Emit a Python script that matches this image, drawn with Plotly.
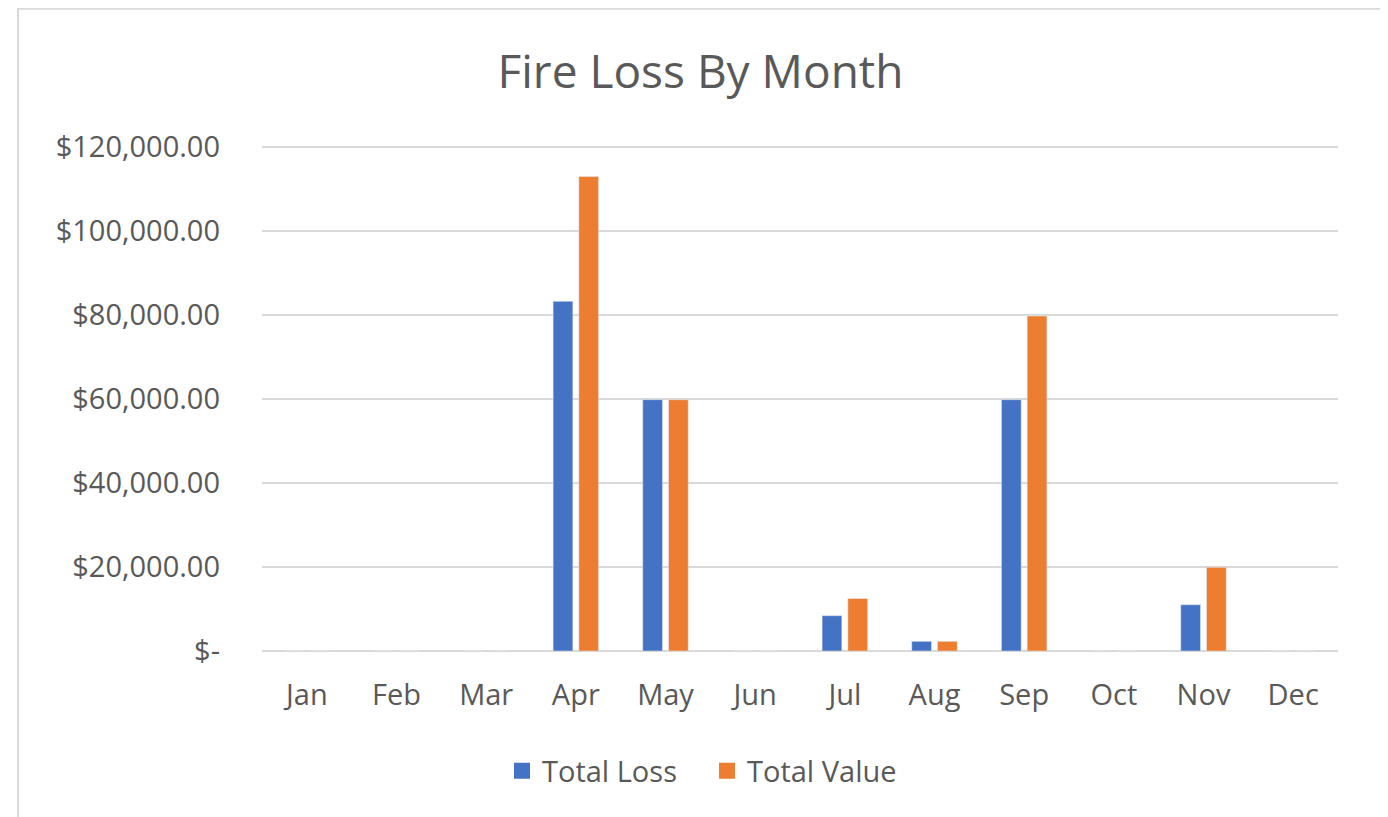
import plotly.graph_objects as go

months = ["Jan", "Feb", "Mar", "Apr", "May", "Jun", "Jul", "Aug", "Sep", "Oct", "Nov", "Dec"]
total_loss = [0, 0, 0, 83200, 59800, 0, 8400, 2300, 59800, 0, 11000, 0]
total_value = [0, 0, 0, 112900, 59800, 0, 12500, 2300, 79700, 0, 19900, 0]
series_names = ["Total Loss", "Total Value"]
series_colors = ["#4472C4", "#ED7D31"]
y_tick_vals = [0, 20000, 40000, 60000, 80000, 100000, 120000]
y_tick_text = ["$-", "$20,000.00", "$40,000.00", "$60,000.00", "$80,000.00", "$100,000.00", "$120,000.00"]

FONT = "Open Sans"
TXT = "#595959"

# page body has an 8px margin; layout coordinates compensate for it
OFF = 8
PLOT_L, PLOT_R, PLOT_T, PLOT_B = 262, 1338, 147, 651.5
YMAX = 120400
ph_full = (PLOT_B - PLOT_T) / 120000 * YMAX
top_px = PLOT_B - ph_full

fig = go.Figure()
for name, vals, col in zip(series_names, [total_loss, total_value], series_colors):
    fig.add_trace(go.Bar(name=name, x=months, y=vals, marker_color=col,
                         showlegend=False, legendgroup=name))
# legend entries with larger square swatches
for name, col in zip(series_names, series_colors):
    fig.add_trace(go.Scatter(name=name, x=[None], y=[None], mode="markers",
                             marker=dict(symbol="square", size=16, color=col),
                             showlegend=True, legendgroup=name, hoverinfo="skip"))

fig.update_layout(
    width=1388, height=817,
    paper_bgcolor="white", plot_bgcolor="white",
    margin=dict(l=PLOT_L - OFF, r=1388 - PLOT_R + OFF, t=top_px - OFF, b=817 - PLOT_B + OFF, pad=0),
    barmode="group", bargap=0.426, bargroupgap=0.233,
    font=dict(family=FONT, color=TXT, size=29),
    title=dict(text="Fire Loss By Month", x=(700.5 - OFF) / 1388, xanchor="center", xref="container",
               y=1 - (72 - OFF) / 817, yanchor="middle", yref="container",
               font=dict(family=FONT, size=46, color=TXT)),
    legend=dict(orientation="h", x=(707 - OFF) / 1388, xanchor="center", xref="container",
                y=1 - (771 - OFF) / 817, yanchor="middle", yref="container",
                font=dict(family=FONT, size=29, color=TXT), itemwidth=30,
                itemsizing="trace", entrywidth=160, entrywidthmode="pixels"),
    showlegend=True,
)
fig.update_xaxes(showgrid=False, showline=False, ticks="", ticklabelstandoff=24,
                 tickfont=dict(family=FONT, size=29, color=TXT))
fig.update_yaxes(range=[0, YMAX], tickvals=y_tick_vals, ticktext=y_tick_text,
                 showgrid=True, gridcolor="#d9d9d9", gridwidth=1.5, zeroline=True,
                 zerolinecolor="#d9d9d9", zerolinewidth=1.5, showline=False, ticks="",
                 ticklabelstandoff=41, tickfont=dict(family=FONT, size=29, color=TXT))

# chart border
pw = PLOT_R - PLOT_L
fig.add_shape(type="rect", xref="paper", yref="paper",
              x0=(18 - PLOT_L) / pw, x1=(1381 - PLOT_L) / pw,
              y0=(PLOT_B - 840) / ph_full, y1=(PLOT_B - 9) / ph_full,
              line=dict(color="#d9d9d9", width=2), fillcolor="rgba(0,0,0,0)", layer="below")

fig.write_html("out.html")
